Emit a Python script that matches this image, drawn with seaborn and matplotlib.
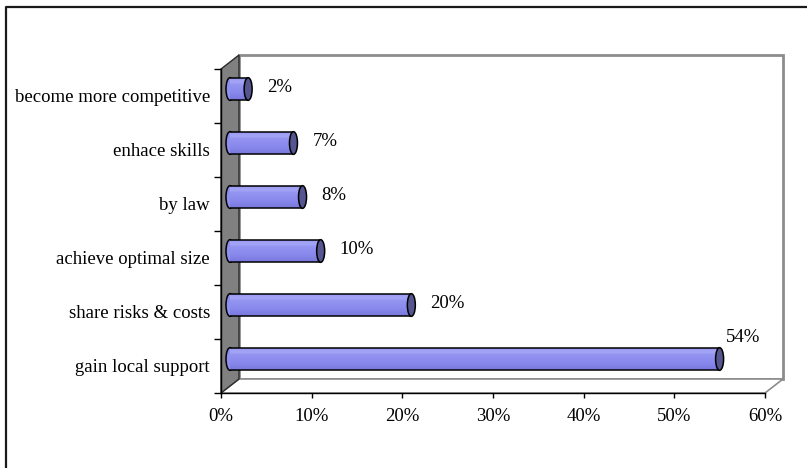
import numpy as np
import pandas as pd
import matplotlib
matplotlib.use("Agg")
import matplotlib.pyplot as plt
import seaborn as sns
from matplotlib.patches import Ellipse, Polygon, Rectangle
from matplotlib.colors import LinearSegmentedColormap
from matplotlib.lines import Line2D

# Reasons for cooperation and the share of respondents naming each
reasons = [
    "become more competitive",
    "enhace skills",
    "by law",
    "achieve optimal size",
    "share risks & costs",
    "gain local support",
]
shares = [2, 7, 8, 10, 20, 54]
x_ticks = [0, 10, 20, 30, 40, 50, 60]
x_tick_labels = ["0%", "10%", "20%", "30%", "40%", "50%", "60%"]

df = pd.DataFrame({"reason": reasons, "share": shares})

W, H, DPI = 807, 468, 100
FS = 13.5
sns.set_theme(style="white")
plt.rcParams["font.family"] = ["Liberation Serif", "DejaVu Serif"]
plt.rcParams["font.size"] = FS
for key in ["text.color", "axes.labelcolor", "xtick.color", "ytick.color"]:
    plt.rcParams[key] = "black"

fig = plt.figure(figsize=(W / DPI, H / DPI), dpi=DPI)
fig.patch.set_facecolor("white")

# front plane of the plot box (pixels) and depth offset of the 3-D box
L, R, B, T = 221, 765, 393, 69
DX, DY = 18, 14

# background layer in pixel units: outer frame, back wall, side wall, floor
bg = fig.add_axes([0, 0, 1, 1], zorder=0)
bg.set_xlim(0, W)
bg.set_ylim(H, 0)
bg.axis("off")
bg.add_line(Line2D([6, 6, W + 10], [H + 10, 7, 7], color="#1a1a1a", lw=1.6))
bg.add_patch(Rectangle((L + DX, T - DY), R - L, B - T, facecolor="white",
                       edgecolor="#8c8c8c", lw=2))
bg.add_patch(Polygon([(L, B), (R, B), (R + DX, B - DY), (L + DX, B - DY)],
                     closed=True, facecolor="white", edgecolor="#8c8c8c", lw=1.2))
bg.add_patch(Polygon([(L, T), (L + DX, T - DY), (L + DX, B - DY), (L, B)],
                     closed=True, facecolor="#808080", edgecolor="#2a2a2a", lw=1))

# front axes: carries the scales, ticks and labels
ax = fig.add_axes([L / W, 1 - B / H, (R - L) / W, (B - T) / H], zorder=1)
ax.patch.set_alpha(0)
ax.set_xlim(0, 60)
ax.set_ylim(len(reasons) - 0.5, -0.5)
ax.set_xticks(x_ticks)
ax.set_xticklabels(x_tick_labels)
ax.set_yticks(np.arange(-0.5, len(reasons) + 0.5, 1))
ax.set_yticklabels([])
ax.set_yticks(np.arange(len(reasons)), minor=True)
ax.set_yticklabels(reasons, minor=True)
for side in ["top", "right"]:
    ax.spines[side].set_visible(False)
for side in ["left", "bottom"]:
    ax.spines[side].set_color("black")
    ax.spines[side].set_linewidth(1.0)
ax.tick_params(axis="x", which="major", direction="out", length=3.6, width=1,
               color="black", labelcolor="black", pad=7, labelsize=FS, bottom=True)
ax.tick_params(axis="y", which="major", direction="out", length=5, width=1,
               color="black", left=True)
ax.tick_params(axis="y", which="minor", length=0, pad=8, labelsize=FS,
               labelcolor="black", left=True)

# bar layer sits half a depth step behind the front plane
axb = fig.add_axes([(L + DX / 2) / W, 1 - (B - DY / 2) / H, (R - L) / W, (B - T) / H],
                   zorder=2)
axb.patch.set_alpha(0)
sns.barplot(data=df, x="share", y="reason", ax=axb, color="#8a8aee",
            width=0.42, saturation=1, edgecolor="none", linewidth=0)
axb.set_xlim(0, 60)
axb.set_ylim(len(reasons) - 0.5, -0.5)
axb.axis("off")

body_cmap = LinearSegmentedColormap.from_list(
    "cyl", [(0.0, "#9696f0"), (0.22, "#a6a6f7"), (0.32, "#9494f1"),
            (0.7, "#8888ec"), (1.0, "#7878dc")])
grad = body_cmap(np.linspace(0, 1, 64))[:, None, :3]

px_per_unit = (R - L) / 60.0
cap_w = 8 / px_per_unit

for patch, v in zip(axb.patches, shares):
    x0, y0 = patch.get_x(), patch.get_y()
    w, h = patch.get_width(), patch.get_height()
    yc = y0 + h / 2
    # rounded tail of the cylinder
    axb.add_patch(Ellipse((x0, yc), cap_w, h, facecolor="#8e8eef",
                          edgecolor="black", lw=1.1, zorder=1, clip_on=False))
    # shaded body
    im = axb.imshow(grad, extent=(x0, x0 + w, y0 + h, y0), aspect="auto",
                    origin="upper", zorder=2, interpolation="bilinear")
    im.set_clip_path(patch)
    axb.hlines([y0, y0 + h], x0, x0 + w, colors="black", lw=1.1, zorder=3)
    # end face
    axb.add_patch(Ellipse((x0 + w, yc), cap_w, h, facecolor="#55558f",
                          edgecolor="black", lw=1.1, zorder=4, clip_on=False))
    # value label
    if v > 0.85 * 60:
        axb.annotate(f"{v}%", xy=(x0 + w, yc), xytext=(6, 22),
                     textcoords="offset pixels", ha="left", va="center",
                     fontsize=FS, color="black", zorder=5)
    else:
        axb.annotate(f"{v}%", xy=(x0 + w, yc), xytext=(19, 2),
                     textcoords="offset pixels", ha="left", va="center",
                     fontsize=FS, color="black", zorder=5)

axb.set_xlim(0, 60)
axb.set_ylim(len(reasons) - 0.5, -0.5)

fig.savefig("out.png", dpi=DPI)
